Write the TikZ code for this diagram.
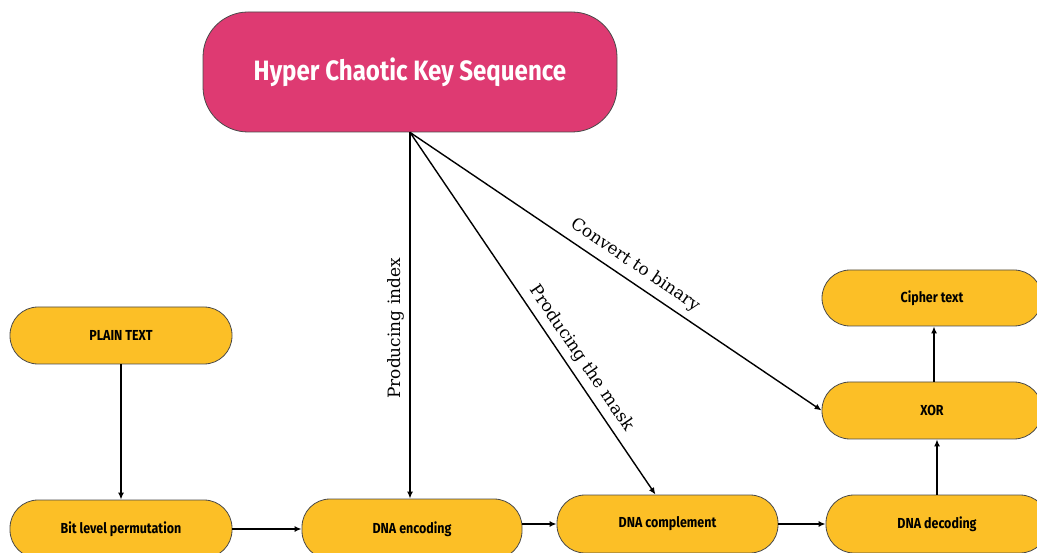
\documentclass[tikz,border=0pt]{standalone}
\usepackage{fontspec}
\setmainfont{DejaVu Serif}
\newfontfamily\boxfont[FakeStretch=0.86]{Fira Sans}
\usetikzlibrary{arrows.meta,calc}
\definecolor{keypink}{HTML}{DE3A72}
\definecolor{stepyellow}{HTML}{FCBF26}
\definecolor{edgegray}{HTML}{4A4A4A}
\tikzset{
  stepbox/.style={draw=edgegray, line width=0.8pt, fill=stepyellow, rounded corners=28pt,
    minimum width=222pt, minimum height=57pt, inner sep=0pt,
    font=\boxfont\bfseries\fontsize{14.5}{16}\selectfont, text=black},
  keybox/.style={draw=edgegray, line width=0.8pt, fill=keypink, rounded corners=45pt,
    minimum width=414pt, minimum height=120pt, inner sep=0pt,
    font=\boxfont\bfseries\fontsize{28}{32}\selectfont, text=white},
  flow/.style={line width=1.4pt, -{Latex[length=7pt,width=6pt]}},
  lbl/.style={font=\fontsize{17}{20}\selectfont, inner sep=2pt}
}
\begin{document}
\begin{tikzpicture}[x=1pt,y=-1pt]
\useasboundingbox (0,0) rectangle (1037,553);
\clip (0,0) rectangle (1037,553);

% key generator
\node[keybox] (key) at (410,72) {Hyper Chaotic Key Sequence};

% processing chain
\node[stepbox] (plain) at (121,335.5) {PLAIN TEXT};
\node[stepbox, minimum height=58pt] (bit) at (121,529) {Bit level permutation};
\node[stepbox, minimum width=220pt, minimum height=60pt] (enc) at (412,529) {DNA encoding};
\node[stepbox, minimum width=221pt, minimum height=58pt] (comp) at (667.5,524) {DNA complement};
\node[stepbox, minimum height=58pt] (dec) at (937,524) {DNA decoding};
\node[stepbox, minimum width=220pt] (xor) at (932,410.5) {XOR};
\node[stepbox, minimum width=220pt, minimum height=56pt] (cipher) at (932,298) {Cipher text};

% main flow
\draw[flow] (plain.south) -- (bit.north);
\draw[flow] (bit.east) -- (enc.west);
\draw[flow] (comp.west -| enc.east) -- (comp.west);
\draw[flow] (comp.east) -- (dec.west);
\draw[flow] (dec.north) -- (dec.north |- xor.south);
\draw[flow] ([xshift=2pt]xor.north) -- ([xshift=2pt]xor.north |- cipher.south);

% key streams
\draw[flow] (key.south) -- (key.south |- enc.north)
  node[lbl, pos=0.535, rotate=90, anchor=south, yshift=3pt] {Producing index};
\draw[flow] (key.south) -- ([xshift=-12pt]comp.north)
  node[lbl, pos=0.647, sloped, above, yshift=4pt] {Producing the mask};
\draw[flow] (key.south) -- (xor.west)
  node[lbl, pos=0.525, sloped, above, yshift=5pt] {Convert to binary};
\end{tikzpicture}
\end{document}
